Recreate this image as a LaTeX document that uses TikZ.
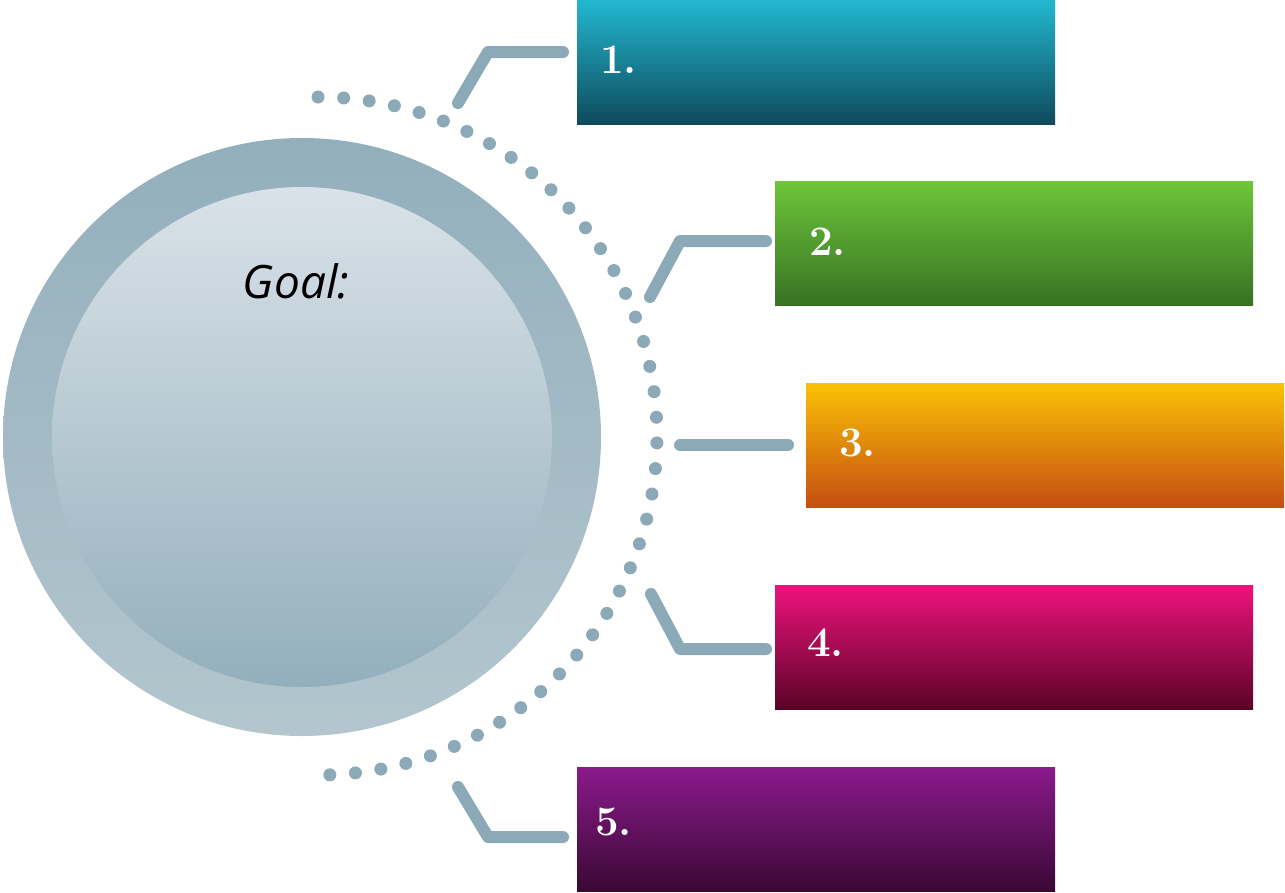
\documentclass[tikz,border=0pt]{standalone}
\usepackage{fontspec}
\newfontfamily\goalfont{Open Sans}
\begin{document}
\begin{tikzpicture}[x=1pt,y=-1pt,
  box/.style={draw=none,rectangle,minimum width=478pt,minimum height=124pt,inner sep=0pt,shading=axis},
  numlbl/.style={anchor=west,text=white,font=\fontsize{42}{42}\selectfont\bfseries,inner sep=0pt},
  conn/.style={draw=linec,line width=12pt,line cap=round,line join=round},
  dotc/.style={fill=linec,draw=none}]
\definecolor{linec}{HTML}{8BA9B7}
\definecolor{c1t}{HTML}{22B8D0}\definecolor{c1b}{HTML}{0F4A5C}
\definecolor{c2t}{HTML}{6EC63A}\definecolor{c2b}{HTML}{377224}
\definecolor{c3t}{HTML}{FAC205}\definecolor{c3b}{HTML}{C64E12}
\definecolor{c4t}{HTML}{EE137E}\definecolor{c4b}{HTML}{5A0326}
\definecolor{c5t}{HTML}{8B1A8C}\definecolor{c5b}{HTML}{3A0834}
\definecolor{ringt}{HTML}{93AFBC}\definecolor{ringb}{HTML}{B3C6CE}
\definecolor{innt}{HTML}{D9E2E8}\definecolor{innm}{HTML}{C6D5DC}\definecolor{innb}{HTML}{93AFBC}
\useasboundingbox (0,0) rectangle (1285,892);
% circle
\node[circle,minimum size=598pt,inner sep=0pt,shading=axis,top color=ringt,bottom color=ringb] (ring) at (302,437) {};
\node[circle,minimum size=500pt,inner sep=0pt,shading=axis,top color=innt,middle color=innm,bottom color=innb] (disk) at (302,437) {};
\node[font=\goalfont\itshape\fontsize{46}{46}\selectfont,inner sep=0pt] (goal) at (296,281) {Goal:};
% dotted arc
\foreach \i in {0,...,41} {
  \pgfmathsetmacro{\a}{90-\i*178/41}
  \fill[dotc] ({318+339*cos(\a)},{436-339*sin(\a)}) circle (6.5pt);
}
% boxes
\node[box,top color=c1t,bottom color=c1b] (b1) at (816,62) {};
\node[box,top color=c2t,bottom color=c2b] (b2) at (1014,243) {};
\node[box,top color=c3t,bottom color=c3b] (b3) at (1045,445) {};
\node[box,top color=c4t,bottom color=c4b] (b4) at (1014,647) {};
\node[box,top color=c5t,bottom color=c5b] (b5) at (816,829) {};
% labels
\node[numlbl] (l1) at (600,60) {1.};
\node[numlbl] (l2) at (809,242) {2.};
\node[numlbl] (l3) at (839,443) {3.};
\node[numlbl] (l4) at (807,643) {4.};
\node[numlbl] (l5) at (595,822) {5.};
% connectors
\coordinate (s1) at (458,103); \coordinate (m1) at (488,52); \coordinate (e1) at (563,52);
\coordinate (s2) at (650,297); \coordinate (m2) at (680,241); \coordinate (e2) at (766,241);
\coordinate (s3) at (680,445); \coordinate (e3) at (788,445);
\coordinate (s4) at (651,594); \coordinate (m4) at (680,649); \coordinate (e4) at (766,649);
\coordinate (s5) at (458,787); \coordinate (m5) at (488,837); \coordinate (e5) at (563,837);
\draw[conn] (s1) -- (m1) -- (e1);
\draw[conn] (s2) -- (m2) -- (e2);
\draw[conn] (s3) -- (e3);
\draw[conn] (s4) -- (m4) -- (e4);
\draw[conn] (s5) -- (m5) -- (e5);
\end{tikzpicture}
\end{document}
